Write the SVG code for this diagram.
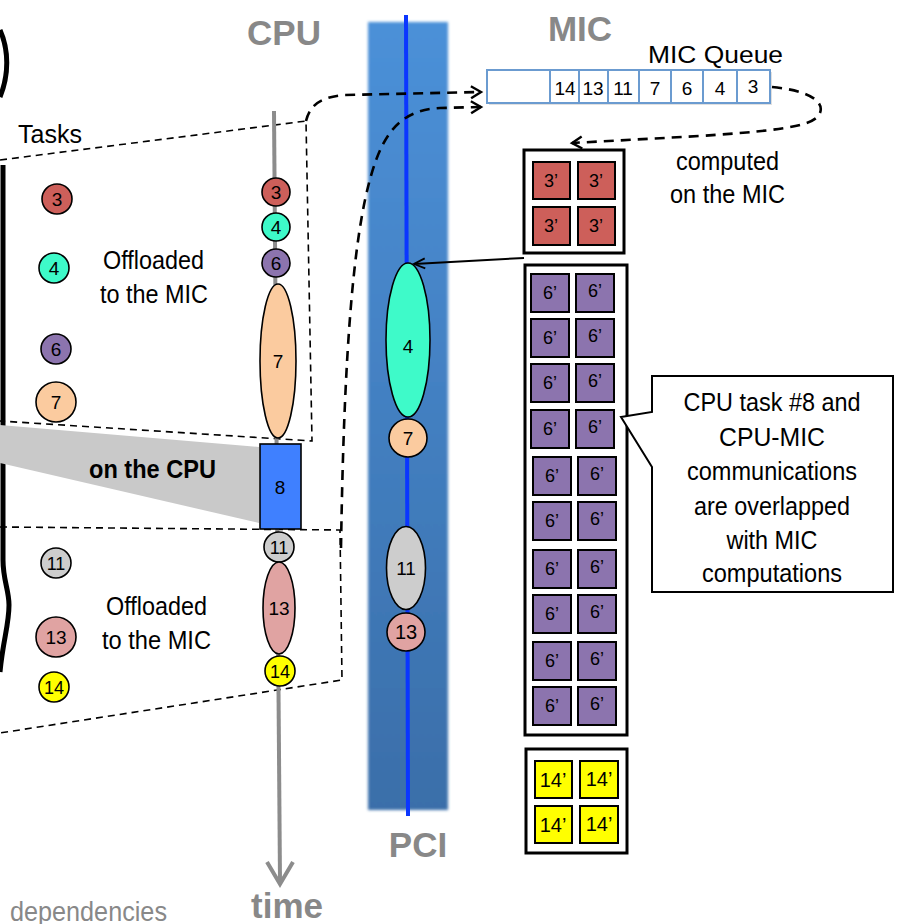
<svg xmlns="http://www.w3.org/2000/svg" width="899" height="924" viewBox="0 0 899 924">
<defs>
<style>
text{font-family:"Liberation Sans",Arial,sans-serif}
.lbl{font-size:26px;fill:#000}
.hd{font-size:35px;font-weight:bold;fill:#888;text-anchor:middle}
.num{font-size:19px;fill:#000;text-anchor:middle}
.c{stroke:#000;stroke-width:1.6}
.thin{fill:none;stroke:#000;stroke-width:1.6;stroke-dasharray:7 5}
.thick{fill:none;stroke:#000;stroke-width:2.6;stroke-dasharray:10 7}
.sq{stroke:#000;stroke-width:2}
.outer{fill:#fff;stroke:#000;stroke-width:3}
.red{fill:#cd5f5a}.aq{fill:#3efac9}.pu{fill:#8c74ae}.pe{fill:#fbcb9f}.gr{fill:#cdcdcd}.pk{fill:#e0a3a2}.ye{fill:#ffff00}
.sqt{font-size:18px;fill:#000;text-anchor:middle}
.co{font-size:26px;fill:#000;text-anchor:middle}
</style>
<linearGradient id="band" x1="0" y1="0" x2="0" y2="1"><stop offset="0" stop-color="#4b90d8"/><stop offset="1" stop-color="#3a6ea9"/></linearGradient>
<filter id="blur" x="-0.1" y="-0.02" width="1.2" height="1.04"><feGaussianBlur stdDeviation="1.5"/></filter>
<marker id="ah" markerWidth="16" markerHeight="16" refX="13" refY="8" orient="auto" markerUnits="userSpaceOnUse"><path d="M3,2 L13,8 L3,14" fill="none" stroke="#000" stroke-width="2.4"/></marker>
<marker id="ahs" markerWidth="16" markerHeight="16" refX="13" refY="8" orient="auto" markerUnits="userSpaceOnUse"><path d="M2,3 L13,8 L2,13" fill="none" stroke="#000" stroke-width="1.8"/></marker>
</defs>

<!-- left brace edge -->
<g id="edge" fill="none" stroke="#000" stroke-width="5">
<path d="M0,30 C9,50 9,75 0,97"/>
<path d="M3,165 L3,560 C3,580 9,590 9,605 C9,625 3,640 0,672"/>
</g>

<!-- gray projection -->
<polygon id="cpu-shade" points="0,425 259,447 259,523 0,463" fill="#c9c9c9"/>

<!-- PCI band -->
<g id="pci">
<rect x="368" y="22" width="80" height="788" fill="url(#band)" filter="url(#blur)"/>
<line x1="406" y1="15" x2="408" y2="816" stroke="#0b36ff" stroke-width="4"/>
</g>

<!-- headers -->
<text class="hd" x="284" y="45">CPU</text>
<text class="hd" x="580" y="41">MIC</text>
<text class="hd" x="418" y="857">PCI</text>
<text class="hd" x="287" y="918">time</text>
<text x="10" y="921" style="font-size:27px;fill:#888" textLength="157" lengthAdjust="spacingAndGlyphs">dependencies</text>

<!-- connectors -->
<g id="connectors">
<path class="thin" d="M0,160 L306,121 L312,441 L0,421"/>
<path class="thin" d="M0,527 L340,530 L342,680 L0,733"/>
<path class="thick" d="M306,121 C310,105 320,97 345,95 L481,92" marker-end="url(#ah)"/>
<path class="thick" d="M341,548 C343,420 348,280 365,200 C378,140 395,110 440,108 L481,107" marker-end="url(#ah)"/>
<path class="thick" d="M772,87 C805,90 825,100 820,113 C815,125 790,130 700,136 L572,143" marker-end="url(#ah)"/>
<line x1="524" y1="258" x2="414" y2="264" stroke="#000" stroke-width="2" marker-end="url(#ahs)"/>
<g id="time-axis" stroke="#8c8c8c" stroke-width="4" fill="none">
<line x1="274" y1="111" x2="280" y2="882"/>
<polyline points="267,862 280,884 293,862"/>
</g>
</g>

<text class="lbl" x="18" y="143" textLength="64" lengthAdjust="spacingAndGlyphs">Tasks</text>

<!-- task list -->
<g id="task-list">
<g id="t3"><circle class="c red" cx="57" cy="199" r="15"/><text class="num" x="57" y="206">3</text></g>
<g id="t4"><circle class="c aq" cx="54" cy="268" r="15"/><text class="num" x="54" y="275">4</text></g>
<g id="t6"><circle class="c pu" cx="56" cy="349" r="15"/><text class="num" x="56" y="356">6</text></g>
<g id="t7"><circle class="c pe" cx="56" cy="402" r="20"/><text class="num" x="56" y="409">7</text></g>
<g id="t11"><circle class="c gr" cx="56" cy="563" r="15"/><text class="num" x="56" y="570" style="font-size:18px">11</text></g>
<g id="t13"><circle class="c pk" cx="56" cy="637" r="20"/><text class="num" x="56" y="644">13</text></g>
<g id="t14"><circle class="c ye" cx="54" cy="687" r="15"/><text class="num" x="54" y="694" style="font-size:18px">14</text></g>
</g>

<g id="labels-left">
<text class="lbl" x="103" y="269" textLength="101" lengthAdjust="spacingAndGlyphs">Offloaded</text>
<text class="lbl" x="100" y="303" textLength="108" lengthAdjust="spacingAndGlyphs">to the MIC</text>
<text class="lbl" x="106" y="615" textLength="101" lengthAdjust="spacingAndGlyphs">Offloaded</text>
<text class="lbl" x="102" y="649" textLength="109" lengthAdjust="spacingAndGlyphs">to the MIC</text>
<text x="89" y="478" style="font-size:25px;font-weight:bold" textLength="127" lengthAdjust="spacingAndGlyphs">on the CPU</text>
</g>

<!-- CPU timeline -->
<g id="cpu-timeline">
<g id="c3"><circle class="c red" cx="276" cy="192" r="14"/><text class="num" x="276" y="199">3</text></g>
<g id="c4"><circle class="c aq" cx="276" cy="227" r="14"/><text class="num" x="276" y="234">4</text></g>
<g id="c6"><circle class="c pu" cx="276" cy="263" r="14"/><text class="num" x="276" y="270">6</text></g>
<g id="c7"><ellipse class="c pe" cx="278" cy="361" rx="18" ry="77"/><text class="num" x="278" y="368">7</text></g>
<g id="c8"><rect x="260" y="444" width="41" height="85" fill="#3f80ff" stroke="#000" stroke-width="1.6"/><text class="num" x="280" y="494">8</text></g>
<g id="c11"><circle class="c gr" cx="279" cy="547" r="15"/><text class="num" x="279" y="554" style="font-size:18px">11</text></g>
<g id="c13"><ellipse class="c pk" cx="279" cy="608" rx="16" ry="46"/><text class="num" x="279" y="615">13</text></g>
<g id="c14"><circle class="c ye" cx="280" cy="671" r="15"/><text class="num" x="280" y="678" style="font-size:18px">14</text></g>
</g>

<!-- PCI transfers -->
<g id="pci-transfers">
<g id="p4"><ellipse class="c aq" cx="408" cy="340" rx="22" ry="77"/><text class="num" x="408" y="353">4</text></g>
<g id="p7"><circle class="c pe" cx="408" cy="438" r="19"/><text class="num" x="408" y="445">7</text></g>
<g id="p11"><ellipse class="c gr" cx="406" cy="568" rx="19.5" ry="41.5"/><text class="num" x="406" y="575">11</text></g>
<g id="p13"><circle class="c pk" cx="406" cy="632" r="19"/><text class="num" x="406" y="639" style="font-size:20px">13</text></g>
</g>

<!-- MIC queue -->
<g id="mic-queue">
<text x="648" y="63" style="font-size:24px" textLength="135" lengthAdjust="spacingAndGlyphs">MIC Queue</text>
<rect x="489" y="72" width="283" height="33" fill="#000" opacity="0.12"/>
<rect x="487" y="70" width="283" height="33" fill="#fff" stroke="#6b9bd0" stroke-width="2"/>
<g stroke="#6b9bd0" stroke-width="2">
<line x1="550" y1="70" x2="550" y2="103"/><line x1="579" y1="70" x2="579" y2="103"/><line x1="608" y1="70" x2="608" y2="103"/><line x1="639" y1="70" x2="639" y2="103"/><line x1="671" y1="70" x2="671" y2="103"/><line x1="703" y1="70" x2="703" y2="103"/><line x1="737" y1="70" x2="737" y2="103"/>
</g>
<g style="font-size:19px" text-anchor="middle">
<text x="565" y="95">14</text><text x="593" y="95">13</text><text x="623" y="95">11</text><text x="655" y="95">7</text><text x="687" y="95">6</text><text x="720" y="95">4</text><text x="753" y="93">3</text>
</g>
</g>

<g id="mic-note">
<text class="lbl" x="676" y="170" textLength="103" lengthAdjust="spacingAndGlyphs">computed</text>
<text class="lbl" x="670" y="203" textLength="115" lengthAdjust="spacingAndGlyphs">on the MIC</text>
</g>

<!-- MIC computations -->
<g id="mic-3">
<rect class="outer" x="524" y="150" width="100" height="103"/>
<rect class="sq red" x="533" y="162" width="37" height="37"/><rect class="sq red" x="578" y="162" width="37" height="37"/>
<rect class="sq red" x="533" y="207" width="37" height="38"/><rect class="sq red" x="578" y="207" width="37" height="38"/>
<text class="sqt" x="551" y="187">3’</text><text class="sqt" x="596" y="187">3’</text>
<text class="sqt" x="551" y="232">3’</text><text class="sqt" x="596" y="232">3’</text>
</g>

<g id="mic-6">
<rect class="outer" x="525" y="265" width="102" height="470"/>
<g class="sq pu">
<rect x="531" y="274" width="38" height="38"/><rect x="576" y="274" width="38" height="38"/>
<rect x="531" y="319" width="38" height="38"/><rect x="576" y="319" width="38" height="38"/>
<rect x="531" y="364" width="38" height="38"/><rect x="576" y="364" width="38" height="38"/>
<rect x="531" y="410" width="38" height="38"/><rect x="576" y="410" width="38" height="38"/>
<rect x="533" y="457" width="38" height="38"/><rect x="578" y="457" width="38" height="38"/>
<rect x="533" y="502" width="38" height="38"/><rect x="578" y="502" width="38" height="38"/>
<rect x="533" y="550" width="38" height="38"/><rect x="578" y="550" width="38" height="38"/>
<rect x="533" y="595" width="38" height="38"/><rect x="578" y="595" width="38" height="38"/>
<rect x="533" y="642" width="38" height="38"/><rect x="578" y="642" width="38" height="38"/>
<rect x="533" y="687" width="38" height="38"/><rect x="578" y="687" width="38" height="38"/>
</g>
<g class="sqt">
<text x="550" y="299">6’</text><text x="595" y="297">6’</text>
<text x="550" y="344">6’</text><text x="595" y="342">6’</text>
<text x="550" y="389">6’</text><text x="595" y="387">6’</text>
<text x="550" y="435">6’</text><text x="595" y="433">6’</text>
<text x="552" y="482">6’</text><text x="597" y="480">6’</text>
<text x="552" y="527">6’</text><text x="597" y="525">6’</text>
<text x="552" y="575">6’</text><text x="597" y="573">6’</text>
<text x="552" y="620">6’</text><text x="597" y="618">6’</text>
<text x="552" y="667">6’</text><text x="597" y="665">6’</text>
<text x="552" y="712">6’</text><text x="597" y="710">6’</text>
</g>
</g>

<g id="mic-14">
<rect class="outer" x="526" y="749" width="101" height="104"/>
<rect class="sq ye" x="535" y="761" width="37" height="37"/><rect class="sq ye" x="580" y="761" width="38" height="37"/>
<rect class="sq ye" x="535" y="806" width="37" height="37"/><rect class="sq ye" x="580" y="806" width="38" height="37"/>
<g class="sqt" style="font-size:20px">
<text x="553" y="787">14’</text><text x="599" y="786">14’</text>
<text x="553" y="832">14’</text><text x="599" y="831">14’</text>
</g>
</g>

<!-- callout -->
<g id="callout">
<path d="M652,376 H893 V592 H652 V467 L621,417 L652,412 Z" fill="#fff" stroke="#000" stroke-width="2"/>
<text class="co" x="772" y="411" textLength="177" lengthAdjust="spacingAndGlyphs">CPU task #8 and</text>
<text class="co" x="772" y="446" textLength="106" lengthAdjust="spacingAndGlyphs">CPU-MIC</text>
<text class="co" x="772" y="480" textLength="170" lengthAdjust="spacingAndGlyphs">communications</text>
<text class="co" x="772" y="515" textLength="156" lengthAdjust="spacingAndGlyphs">are overlapped</text>
<text class="co" x="772" y="549" textLength="91" lengthAdjust="spacingAndGlyphs">with MIC</text>
<text class="co" x="772" y="582" textLength="140" lengthAdjust="spacingAndGlyphs">computations</text>
</g>
</svg>
